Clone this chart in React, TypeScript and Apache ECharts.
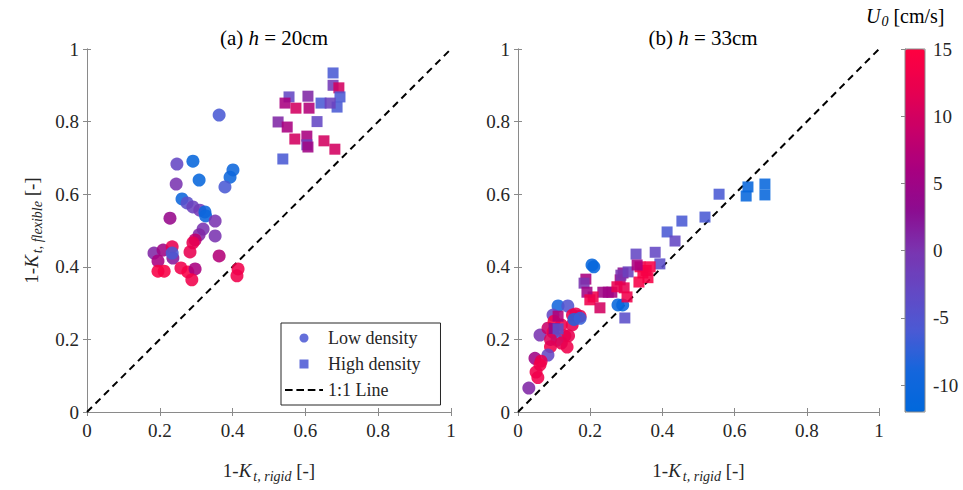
import React, { useEffect, useRef } from "react";
import * as echarts from "echarts";

// [1-Kt,rigid, 1-Kt,flexible, U0 (cm/s)]
const LEFT_LOW: number[][] = [
  [0.363, 0.818, -6], [0.291, 0.691, -11], [0.247, 0.683, -3], [0.308, 0.639, -11],
  [0.401, 0.667, -10], [0.393, 0.647, -10], [0.379, 0.62, -6], [0.245, 0.628, 0],
  [0.261, 0.587, -10], [0.275, 0.576, -4], [0.291, 0.565, -2], [0.31, 0.556, -1],
  [0.324, 0.551, -10], [0.326, 0.54, -10], [0.352, 0.526, 0], [0.228, 0.534, 4],
  [0.319, 0.504, 0], [0.352, 0.485, 0], [0.308, 0.488, 1], [0.297, 0.474, 8],
  [0.291, 0.466, 12], [0.283, 0.441, 12], [0.363, 0.43, 7], [0.184, 0.438, 1],
  [0.209, 0.446, 5], [0.234, 0.455, 12], [0.236, 0.424, 2], [0.195, 0.416, 6],
  [0.195, 0.388, 14], [0.212, 0.388, 14], [0.258, 0.397, 13], [0.277, 0.386, 14],
  [0.297, 0.394, 6], [0.288, 0.364, 13], [0.415, 0.394, 13], [0.412, 0.375, 13],
  [0.234, 0.438, -6],
];
const LEFT_HIGH: number[][] = [
  [0.676, 0.934, -6], [0.676, 0.9, -1], [0.692, 0.893, 10], [0.695, 0.868, -6],
  [0.687, 0.84, -6], [0.643, 0.851, -6], [0.668, 0.851, -2], [0.607, 0.87, 1],
  [0.555, 0.868, -3], [0.544, 0.851, 6], [0.574, 0.837, 10], [0.61, 0.837, 7],
  [0.632, 0.8, -3], [0.525, 0.799, 1], [0.55, 0.785, 6], [0.571, 0.752, 10],
  [0.604, 0.76, 6], [0.604, 0.736, -2], [0.607, 0.73, 5], [0.651, 0.747, 10],
  [0.681, 0.724, 10], [0.538, 0.697, -6],
];
const RIGHT_LOW: number[][] = [
  [0.21, 0.4, -11], [0.205, 0.405, -11], [0.277, 0.295, -11], [0.29, 0.295, -11],
  [0.111, 0.292, -9], [0.138, 0.292, -5], [0.097, 0.267, -3], [0.151, 0.267, 12],
  [0.172, 0.264, 12], [0.16, 0.27, 12], [0.15, 0.24, 12], [0.155, 0.255, -8],
  [0.172, 0.258, -7], [0.061, 0.212, 0], [0.083, 0.231, 9], [0.097, 0.22, 13],
  [0.13, 0.21, 13], [0.14, 0.21, 12], [0.108, 0.198, -4], [0.136, 0.179, 13],
  [0.09, 0.18, 13], [0.12, 0.19, 12], [0.083, 0.157, -3], [0.047, 0.148, 5],
  [0.064, 0.14, 12], [0.061, 0.13, 13], [0.05, 0.11, 13], [0.055, 0.095, 13],
  [0.03, 0.066, 1], [0.1, 0.25, 14], [0.12, 0.24, 13], [0.09, 0.2, 11],
];
const RIGHT_HIGH: number[][] = [
  [0.557, 0.6, -6], [0.637, 0.62, -11], [0.632, 0.595, -11], [0.684, 0.628, -11],
  [0.684, 0.598, -11], [0.518, 0.537, -6], [0.454, 0.526, -6], [0.413, 0.496, -6],
  [0.435, 0.471, -3], [0.327, 0.435, -3], [0.38, 0.44, -3], [0.393, 0.408, -4],
  [0.338, 0.4, 13], [0.366, 0.4, 14], [0.346, 0.383, 14], [0.335, 0.358, 14],
  [0.355, 0.39, 14], [0.36, 0.37, 14], [0.291, 0.383, 3], [0.283, 0.364, 8],
  [0.294, 0.342, 12], [0.235, 0.33, 5], [0.26, 0.33, 6], [0.25, 0.33, 5],
  [0.302, 0.317, 13], [0.227, 0.287, 10], [0.208, 0.317, 13], [0.296, 0.259, -4],
  [0.188, 0.366, 6], [0.183, 0.355, 0], [0.191, 0.33, 5], [0.199, 0.309, 13],
  [0.285, 0.377, 0], [0.274, 0.345, 12], [0.305, 0.386, -2], [0.33, 0.405, 6],
  [0.111, 0.264, 7], [0.1, 0.23, 4], [0.111, 0.229, -4],
];
const ONE_TO_ONE: number[][] = [[0, 0], [1, 1]];
const U_MIN = -12;
const U_MAX = 15;
const U_COLORS = [
  "#0068dc", "#1466dc", "#4a5ad4", "#6448c4", "#7a34b0",
  "#8c0c90", "#a80080", "#c80068", "#e80050", "#ff0040",
];

const FONT = "Liberation Serif";
const AXIS_COLOR = "#8a8a8a";
const TEXT_COLOR = "#262626";
const SQUARE_ICON = "path://M0,0H10V10H0Z";
const DASH_ICON = "path://M0,0H8V2H0Z M12,0H20V2H12Z M24,0H32V2H24Z M36,0H40V2H36Z";

export default function App() {
  const ref = useRef<HTMLDivElement>(null);
  useEffect(() => {
    if (!ref.current) return;
    const chart = echarts.init(ref.current, undefined, { renderer: "svg" });
    const grids = [
      { left: 87, top: 49, width: 364, height: 363 },
      { left: 518, top: 49, width: 361, height: 363 },
      { left: 905, top: 49, width: 20, height: 363 },
    ];
    const nameRich = {
      n: { fontFamily: FONT, fontSize: 19, color: TEXT_COLOR },
      i: { fontFamily: FONT, fontSize: 19, fontStyle: "italic", color: TEXT_COLOR },
      s: { fontFamily: FONT, fontSize: 14, fontStyle: "italic", color: TEXT_COLOR, padding: [12, 0, 0, 2] },
    };
    const mainX = (gi: number) => ({
      type: "value", gridIndex: gi, min: 0, max: 1, interval: 0.2,
      position: "bottom",
      axisLine: { show: true, lineStyle: { color: AXIS_COLOR, width: 1 } },
      axisTick: { show: true, inside: true, length: 4, lineStyle: { color: AXIS_COLOR } },
      axisLabel: { fontFamily: FONT, fontSize: 19, color: TEXT_COLOR, margin: 9 },
      splitLine: { show: false },
      name: "{n|1-}{i|K}{s|t, rigid}{n| [-]}",
      nameLocation: "middle", nameGap: 45,
      nameTextStyle: { rich: nameRich },
    });
    const topX = (gi: number) => ({
      type: "value", gridIndex: gi, min: 0, max: 1, interval: 0.2, position: "top",
      axisLine: { show: true, lineStyle: { color: AXIS_COLOR, width: 1 } },
      axisTick: { show: true, inside: true, length: 4, lineStyle: { color: AXIS_COLOR } },
      axisLabel: { show: false }, splitLine: { show: false },
    });
    const mainY = (gi: number, withName: boolean) => ({
      type: "value", gridIndex: gi, min: 0, max: 1, interval: 0.2, position: "left",
      axisLine: { show: true, lineStyle: { color: AXIS_COLOR, width: 1 } },
      axisTick: { show: true, inside: true, length: 4, lineStyle: { color: AXIS_COLOR } },
      axisLabel: { fontFamily: FONT, fontSize: 19, color: TEXT_COLOR, margin: 8 },
      splitLine: { show: false },
      name: withName ? "{n|1-}{i|K}{s|t, flexible}{n| [-]}" : "",
      nameLocation: "middle", nameGap: 43, nameRotate: 90,
      nameTextStyle: { rich: nameRich },
    });
    const rightY = (gi: number) => ({
      type: "value", gridIndex: gi, min: 0, max: 1, interval: 0.2, position: "right",
      axisLine: { show: true, lineStyle: { color: AXIS_COLOR, width: 1 } },
      axisTick: { show: true, inside: true, length: 4, lineStyle: { color: AXIS_COLOR } },
      axisLabel: { show: false }, splitLine: { show: false },
    });
    const scatter = (name: string, data: number[][], gi: number, symbol: string, size: number) => ({
      type: "scatter", name, data, xAxisIndex: gi * 2, yAxisIndex: gi * 2,
      symbol, symbolSize: size,
      itemStyle: { color: "#4f5bd5", opacity: 0.88 },
    });
    const line = (gi: number) => ({
      type: "line", name: "1:1 Line", data: ONE_TO_ONE, xAxisIndex: gi * 2, yAxisIndex: gi * 2,
      symbol: "none", z: 1,
      lineStyle: { color: "#000", width: 2, type: [7, 5] },
      itemStyle: { color: "#000" },
    });
    const titleRich = {
      n: { fontFamily: FONT, fontSize: 21, fontWeight: "normal", color: "#000" },
      i: { fontFamily: FONT, fontSize: 21, fontWeight: "normal", fontStyle: "italic", color: "#000" },
    };
    chart.setOption({
      animation: false,
      backgroundColor: "#fff",
      grid: grids,
      xAxis: [
        mainX(0), topX(0), mainX(1), topX(1),
        { type: "value", gridIndex: 2, show: false, min: 0, max: 1 },
      ],
      yAxis: [
        mainY(0, true), rightY(0), mainY(1, false), rightY(1),
        {
          type: "value", gridIndex: 2, min: U_MIN, max: U_MAX, position: "right",
          axisLine: { show: true, lineStyle: { color: AXIS_COLOR } },
          axisTick: { show: true, inside: true, length: 4, lineStyle: { color: AXIS_COLOR } },
          axisLabel: { fontFamily: FONT, fontSize: 19, color: TEXT_COLOR, margin: 8, showMinLabel: false },
          splitLine: { show: false },
        },
      ],
      title: [
        { text: "{n|(a) }{i|h}{n| = 20cm}", left: 269, top: 22, textAlign: "center", textStyle: { fontWeight: "normal", rich: titleRich } },
        { text: "{n|(b) }{i|h}{n| = 33cm}", left: 698, top: 22, textAlign: "center", textStyle: { fontWeight: "normal", rich: titleRich } },
      ],
      visualMap: {
        type: "continuous", min: U_MIN, max: U_MAX, dimension: 2,
        seriesIndex: [0, 1, 3, 4], calculable: false,
        left: 905, top: 49, itemWidth: 20, itemHeight: 363, padding: 0,
        inRange: { color: U_COLORS },
        hoverLink: false,
      },
      legend: {
        orient: "vertical", left: 281, top: 323,
        data: [
          { name: "Low density", icon: "circle" },
          { name: "High density", icon: SQUARE_ICON },
          { name: "1:1 Line", icon: DASH_ICON, itemStyle: { color: "#000" } },
        ],
        itemWidth: 38, itemHeight: 9, itemGap: 8,
        padding: [6, 20, 6, 4],
        borderColor: "#262626", borderWidth: 1, backgroundColor: "#fff",
        textStyle: { fontFamily: FONT, fontSize: 18, color: TEXT_COLOR },
      },
      graphic: [
        {
          type: "rect", z: 100,
          shape: { x: 905, y: 49, width: 20, height: 363 },
          style: { fill: "none", stroke: AXIS_COLOR, lineWidth: 1 },
        },
        {
          type: "text", left: 866, top: 6, z: 100,
          style: {
            text: "{i|U}{s|0}{n| [cm/s]}",
            rich: {
              i: { fontFamily: FONT, fontSize: 20, fontStyle: "italic", color: "#a0142a" },
              s: { fontFamily: FONT, fontSize: 14, fontStyle: "italic", color: "#a0142a", padding: [10, 0, 0, 1] },
              n: { fontFamily: FONT, fontSize: 20, color: TEXT_COLOR },
            },
          },
        },
      ],
      series: [
        scatter("Low density", LEFT_LOW, 0, "circle", 13),
        scatter("High density", LEFT_HIGH, 0, "rect", 11),
        line(0),
        scatter("Low density", RIGHT_LOW, 1, "circle", 13),
        scatter("High density", RIGHT_HIGH, 1, "rect", 11),
        line(1),
      ],
    });
    return () => chart.dispose();
  }, []);
  return (
    <div
      ref={ref}
      style={{ position: "fixed", left: 0, top: 0, width: 963, height: 490, background: "#fff" }}
    />
  );
}
